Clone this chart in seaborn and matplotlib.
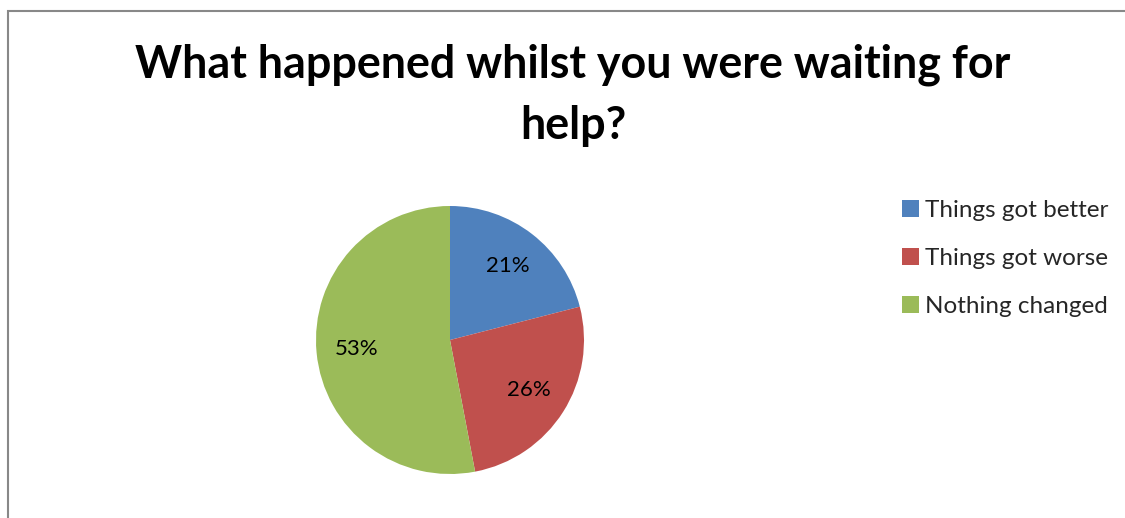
import matplotlib
matplotlib.use("Agg")
import matplotlib.pyplot as plt
from matplotlib.patches import Rectangle, Patch
import seaborn as sns

categories = ["Things got better", "Things got worse", "Nothing changed"]
shares = [21, 26, 53]
colors = ["#4F81BD", "#C0504D", "#9BBB59"]
title_lines = ["What happened whilst you were waiting for", "help?"]

sns.set_theme(style="white")
plt.rcParams["font.family"] = ["Lato", "DejaVu Sans"]

W, H = 1125, 518
fig = plt.figure(figsize=(W / 100, H / 100), dpi=100)
fig.patch.set_facecolor("white")

# chart frame
fig.patches.append(Rectangle((7.5 / W, -0.1), 1.2, (H - 11.5) / H + 0.1,
                             transform=fig.transFigure, fill=False,
                             edgecolor="#888888", linewidth=1.5))

for line, y in zip(title_lines, [78, 139]):
    fig.text(573 / W, 1 - y / H, line, ha="center", va="baseline",
             fontsize=32.3, fontweight="bold", color="black")

cx, cy, r = 450, 340, 134
ax = fig.add_axes([(cx - r) / W, (H - cy - r) / H, 2 * r / W, 2 * r / H])
pct_labels = iter(f"{v}%" for v in shares)
wedges, texts, autotexts = ax.pie(
    shares, colors=sns.color_palette(colors), startangle=90, counterclock=False,
    radius=1, autopct=lambda p: next(pct_labels), pctdistance=0.7,
    textprops=dict(fontsize=16, color="black"),
    wedgeprops=dict(linewidth=0))
ax.set_xlim(-1, 1)
ax.set_ylim(-1, 1)
ax.set_aspect("auto")
ax.axis("off")

handles = [Patch(facecolor=c, edgecolor="none") for c in colors]
fig.legend(handles, categories, loc="upper left",
           bbox_to_anchor=(902 / W, 1 - 200 / H), frameon=False,
           fontsize=17.5, handlelength=0.7, handleheight=0.7,
           handletextpad=0.25, labelspacing=1.1, borderpad=0, borderaxespad=0)

fig.savefig("out.png", dpi=100, facecolor="white")
